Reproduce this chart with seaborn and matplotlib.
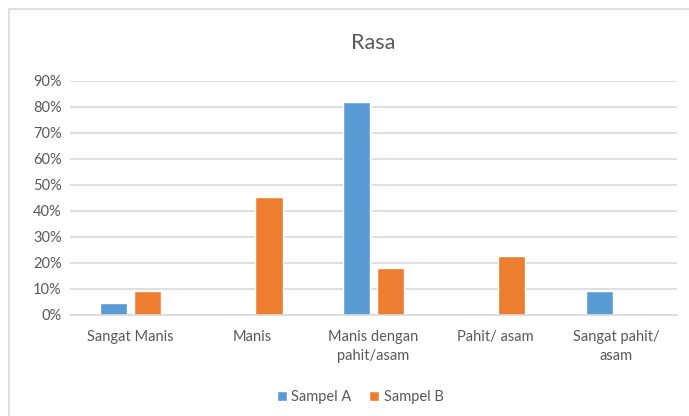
import matplotlib
matplotlib.use("Agg")
import matplotlib.pyplot as plt
from matplotlib.patches import Rectangle
from matplotlib.ticker import PercentFormatter
import pandas as pd
import seaborn as sns

# data
categories = ["Sangat Manis", "Manis", "Manis dengan\npahit/asam", "Pahit/ asam", "Sangat pahit/\nasam"]
sampel_a = [0.045, 0.0, 0.818, 0.0, 0.091]
sampel_b = [0.091, 0.455, 0.182, 0.227, 0.0]
series = ["Sampel A", "Sampel B"]
colors = ["#5B9BD5", "#ED7D31"]

df = pd.DataFrame({
    "kategori": categories * 2,
    "nilai": sampel_a + sampel_b,
    "sampel": [series[0]] * len(categories) + [series[1]] * len(categories),
})

sns.set_style("white")
plt.rcParams["font.family"] = ["Lato", "DejaVu Sans"]
text_color = "#595959"
grid_color = "#D9D9D9"

fig = plt.figure(figsize=(6.89, 4.16), dpi=100)
ax = fig.add_axes([70 / 689, 1 - 315 / 416, 607 / 689, 234 / 416])

sns.barplot(data=df, x="kategori", y="nilai", hue="sampel", order=categories,
            palette=colors, width=0.56, gap=0.2, ax=ax, saturation=1, legend=True)

ax.set_ylim(0, 0.9)
ax.set_yticks([i / 10 for i in range(10)])
ax.yaxis.set_major_formatter(PercentFormatter(1.0, decimals=0))
ax.grid(axis="y", color=grid_color, linewidth=1.2)
ax.set_axisbelow(True)
for s in ["top", "right", "left"]:
    ax.spines[s].set_visible(False)
ax.spines["bottom"].set_color(grid_color)
ax.spines["bottom"].set_linewidth(1.2)
ax.tick_params(axis="both", length=0, colors=text_color, labelsize=10.5)
ax.tick_params(axis="x", pad=11)
ax.tick_params(axis="y", pad=6)
for lbl in ax.get_xticklabels():
    lbl.set_linespacing(1.45)
ax.set_xlabel("")
ax.set_ylabel("")
ax.set_xlim(-0.5, len(categories) - 0.5)

ax.set_title("Rasa", color=text_color, fontsize=15.5, pad=23)

leg = ax.legend(loc="center", bbox_to_anchor=(360 / 689, 1 - 397 / 416),
                bbox_transform=fig.transFigure, ncol=2, frameon=False,
                handlelength=0.7, handleheight=0.7, handletextpad=0.3,
                columnspacing=1.2, fontsize=10.5)
for t in leg.get_texts():
    t.set_color(text_color)

# chart border like the Excel chart area
fig.patches.append(Rectangle((9 / 689, -0.1), 1.2, 1 - 9 / 416 + 0.1,
                             transform=fig.transFigure, fill=False,
                             edgecolor=grid_color, linewidth=1.2))

fig.savefig("out.png", dpi=100)
